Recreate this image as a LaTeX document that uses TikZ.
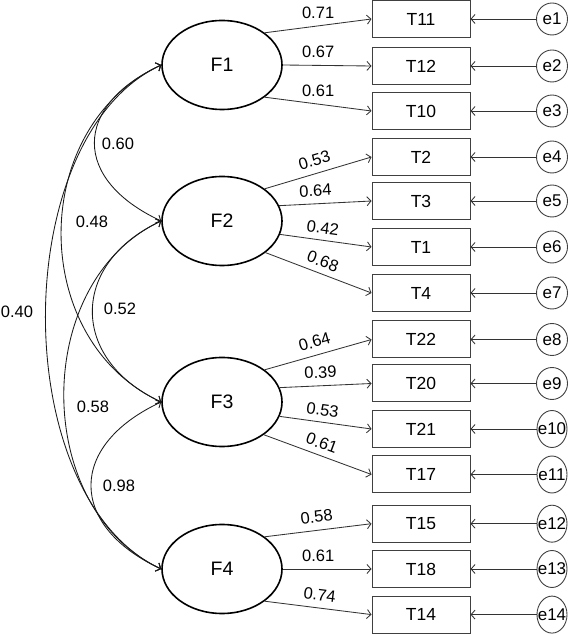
\documentclass[tikz,border=0pt]{standalone}
\usepackage{fontspec}
\setmainfont{Liberation Sans}
\usetikzlibrary{arrows.meta,shapes.geometric}
\begin{document}
\begin{tikzpicture}[x=1pt,y=1pt,
  lat/.style={ellipse,draw,line width=1.6pt,minimum width=120pt,minimum height=89pt,inner sep=0pt,font=\fontsize{19.5}{22}\selectfont},
  obs/.style={rectangle,draw=black!75,line width=1pt,minimum width=98pt,minimum height=37pt,inner sep=0pt,font=\fontsize{17.5}{20}\selectfont},
  err/.style={ellipse,draw=black!75,line width=0.9pt,minimum width=31pt,minimum height=32pt,inner xsep=-5pt,inner ysep=0pt,font=\fontsize{17}{19}\selectfont},
  errw/.style={err,minimum width=30pt,minimum height=37pt},
  arr/.style={-{Straight Barb[length=4pt,width=9pt]},line width=0.85pt,draw=black!80},
  cov/.style={{Straight Barb[length=4pt,width=9pt]}-{Straight Barb[length=4pt,width=9pt]},line width=0.85pt,draw=black!90},
  lbl/.style={font=\fontsize{16.5}{19}\selectfont,inner sep=1pt},
]
\useasboundingbox (0,0) rectangle (571,635);

% latent factors
\node[lat] (F1) at (222,570) {F1};
\node[lat] (F2) at (222,414) {F2};
\node[lat] (F3) at (222,233) {F3};
\node[lat] (F4) at (222,66) {F4};

% observed indicators
\node[obs] (T11) at (421,616) {T11};
\node[obs] (T12) at (421,569) {T12};
\node[obs] (T10) at (421,524) {T10};
\node[obs] (T2)  at (421,478) {T2};
\node[obs] (T3)  at (421,434) {T3};
\node[obs] (T1)  at (421,388) {T1};
\node[obs] (T4)  at (421,342) {T4};
\node[obs] (T22) at (421,295.5) {T22};
\node[obs] (T20) at (421,251.5) {T20};
\node[obs] (T21) at (421,206) {T21};
\node[obs] (T17) at (421,160.5) {T17};
\node[obs] (T15) at (421,111.3) {T15};
\node[obs] (T18) at (421,66) {T18};
\node[obs] (T14) at (421,20.4) {T14};

% error terms
\node[err] (e1) at (552,616) {e1};
\node[err] (e2) at (552,569) {e2};
\node[err] (e3) at (552,524) {e3};
\node[err] (e4) at (552,478) {e4};
\node[err] (e5) at (552,434) {e5};
\node[err] (e6) at (552,388) {e6};
\node[err] (e7) at (552,342) {e7};
\node[err] (e8) at (552,295.5) {e8};
\node[err] (e9) at (552,251.5) {e9};
\node[errw] (e10) at (552,206) {e10};
\node[errw] (e11) at (552,160.5) {e11};
\node[errw] (e12) at (552,111.3) {e12};
\node[errw] (e13) at (552,66) {e13};
\node[errw] (e14) at (552,20.4) {e14};

\foreach \e/\t in {e1/T11,e2/T12,e3/T10,e4/T2,e5/T3,e6/T1,e7/T4,e8/T22,e9/T20,e10/T21,e11/T17,e12/T15,e13/T18,e14/T14}
  \draw[arr] (\e) -- (\t.east);

% loadings
\draw[arr] (F1.37) -- (T11.west) node[lbl,midway,above=6pt] (l1) {0.71};
\draw[arr] (F1.east) -- (T12.west) node[lbl,pos=0.4,above=6pt] (l2) {0.67};
\draw[arr] (F1.-37) -- (T10.west) node[lbl,midway,above=6pt] (l3) {0.61};

\draw[arr] (F2.37) -- (T2.west) node[lbl,midway,above=6pt,sloped] (l4) {0.53};
\draw[arr] (F2.15) -- (T3.west) node[lbl,pos=0.4,above=6pt,sloped] (l5) {0.64};
\draw[arr] (F2.-13) -- (T1.west) node[lbl,pos=0.45,above=5pt,sloped] (l6) {0.42};
\draw[arr] (F2.-36) -- (T4.west) node[lbl,midway,above=5pt,sloped] (l7) {0.68};

\draw[arr] (F3.37) -- (T22.west) node[lbl,midway,above=6pt,sloped] (l8) {0.64};
\draw[arr] (F3.14) -- (T20.west) node[lbl,pos=0.45,above=6pt,sloped] (l9) {0.39};
\draw[arr] (F3.-14) -- (T21.west) node[lbl,pos=0.45,above=5pt,sloped] (l10) {0.53};
\draw[arr] (F3.-38) -- (T17.west) node[lbl,midway,above=5pt,sloped] (l11) {0.61};

\draw[arr] (F4.37) -- (T15.west) node[lbl,midway,above=6pt,sloped] (l12) {0.58};
\draw[arr] (F4.east) -- (T18.west) node[lbl,pos=0.4,above=6pt] (l13) {0.61};
\draw[arr] (F4.-37) -- (T14.west) node[lbl,midway,above=6pt,sloped] (l14) {0.74};

% covariances
\draw[cov] (F1.west) to[out=205,in=155,distance=98pt] (F2.west);
\draw[cov] (F1.west) to[out=205,in=155,distance=147pt] (F3.west);
\draw[cov] (F1.west) to[out=205,in=155,distance=170pt] (F4.west);
\draw[cov] (F2.west) to[out=205,in=155,distance=101pt] (F3.west);
\draw[cov] (F2.west) to[out=205,in=155,distance=143pt] (F4.west);
\draw[cov] (F3.west) to[out=205,in=155,distance=103pt] (F4.west);

\node[lbl] (c12) at (118,491) {0.60};
\node[lbl] (c13) at (92,413) {0.48};
\node[lbl] (c14) at (17,323) {0.40};
\node[lbl] (c23) at (120,326) {0.52};
\node[lbl] (c24) at (93,228) {0.58};
\node[lbl] (c34) at (119,149) {0.98};
\end{tikzpicture}
\end{document}
